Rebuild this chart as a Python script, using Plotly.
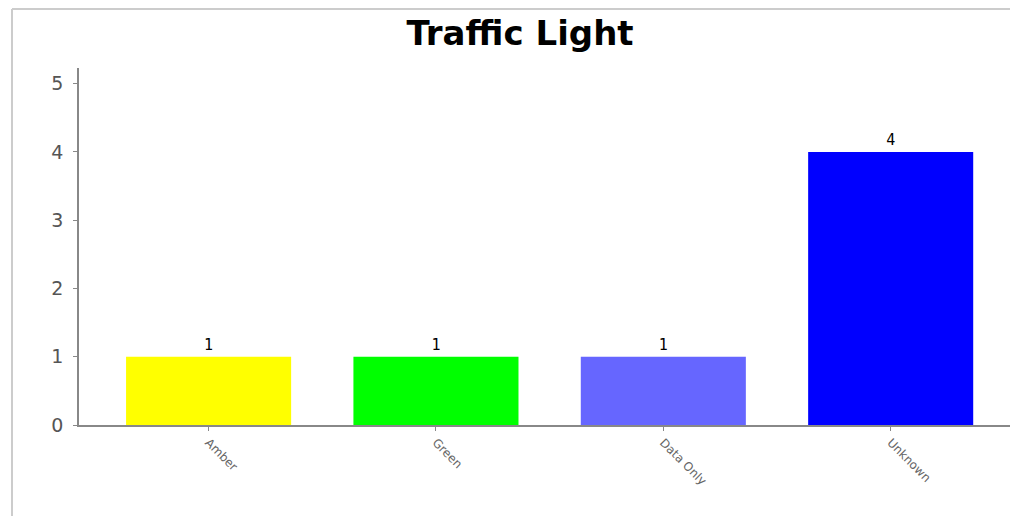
import plotly.graph_objects as go

categories = ["Amber", "Green", "Data Only", "Unknown"]
values = [1, 1, 1, 4]
colors = ["#FFFF00", "#00FF00", "#6666FF", "#0000FF"]
y_ticks = [0, 1, 2, 3, 4, 5]

# page body has an 8px margin, so figure coords = screen coords - 8
OFF = 8
W, H = 1018 - OFF, 516 - OFF
L, T = 79 - OFF, 68 - OFF
B = H - (425 - OFF)
pw = W - L
ph = H - T - B

fig = go.Figure(go.Bar(
    x=categories, y=values,
    marker=dict(color=colors, line=dict(width=0)),
    width=0.726,
    text=[str(v) for v in values], textposition="outside",
    textfont=dict(family="DejaVu Sans Mono", size=15, color="black"),
    cliponaxis=False,
))

fig.update_layout(
    width=W, height=H,
    margin=dict(l=L, r=0, t=T, b=B, pad=0),
    paper_bgcolor="white", plot_bgcolor="white",
    showlegend=False,
    title=dict(text="<b>Traffic Light</b>", x=(520 - OFF) / W, xanchor="center",
               y=1 - (33 - OFF) / H, yanchor="middle",
               font=dict(family="DejaVu Sans", size=34, color="black")),
    xaxis=dict(range=[-0.57, 3.56], showgrid=False, showline=True,
               linecolor="#888888", linewidth=1.5, ticks="outside", ticklen=4,
               tickcolor="#888888", tickangle=45,
               tickfont=dict(family="DejaVu Sans", size=12, color="#666666")),
    yaxis=dict(range=[0, 5.23], tickvals=y_ticks, showgrid=False, zeroline=False,
               showline=True, linecolor="#888888", linewidth=1.5,
               ticks="outside", ticklen=4, tickcolor="#888888",
               ticklabelstandoff=6,
               tickfont=dict(family="DejaVu Sans", size=19, color="#555555")),
    shapes=[
        dict(type="line", xref="paper", yref="paper",
             x0=(12 - 79) / pw, x1=(12 - 79) / pw, y0=1 + (T - 1) / ph, y1=-(B + 5) / ph,
             line=dict(color="#CCCCCC", width=2)),
        dict(type="line", xref="paper", yref="paper",
             x0=(12 - 79) / pw, x1=1.01, y0=1 + (T - 1) / ph, y1=1 + (T - 1) / ph,
             line=dict(color="#CCCCCC", width=2)),
    ],
)

fig.write_html("out.html")
